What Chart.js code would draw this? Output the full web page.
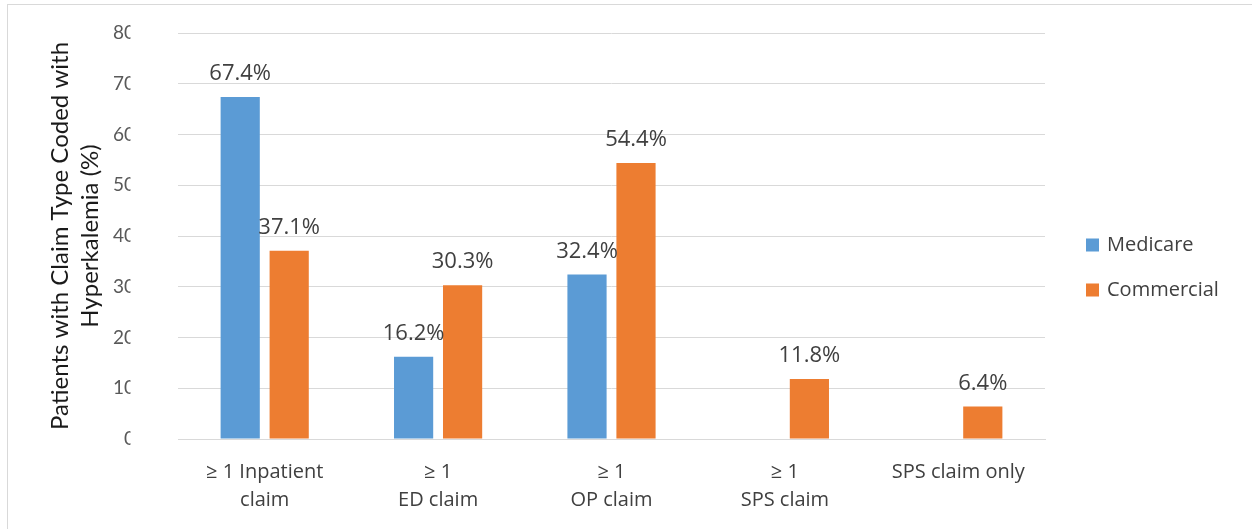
<!DOCTYPE html>
<html>
<head>
<meta charset="utf-8">
<script src="https://cdn.jsdelivr.net/npm/chart.js@4/dist/chart.umd.min.js"></script>
<style>
    html, body { margin: 0; padding: 0; background: #fff; overflow: hidden; }
    #wrap { position: relative; width: 1252px; height: 529px; }
    #frame { position: absolute; left: 7px; top: 4px; width: 1260px; height: 540px; border: 1px solid #d9d9d9; pointer-events: none; }
</style>
</head>
<body>
<div id="wrap">
    <canvas id="claimChart" width="1252" height="529"></canvas>
    <div id="frame"></div>
</div>
<script>
// Data
const categories = [
    ['≥ 1 Inpatient', 'claim'],
    ['≥ 1', 'ED claim'],
    ['≥ 1', 'OP claim'],
    ['≥ 1', 'SPS claim'],
    'SPS claim only'
];
const medicareValues = [67.4, 16.2, 32.4, null, null];
const commercialValues = [37.1, 30.3, 54.4, 11.8, 6.4];
const yTickValues = [0, 10, 20, 30, 40, 50, 60, 70, 80];
const yTitle = ['Patients with Claim Type Coded with', 'Hyperkalemia (%)'];

// Value labels above each bar
const barLabels = {
    id: 'barLabels',
    afterDatasetsDraw(chart) {
        const ctx = chart.ctx;
        ctx.save();
        ctx.font = '22px "Open Sans"';
        ctx.fillStyle = '#404040';
        ctx.textAlign = 'center';
        ctx.textBaseline = 'alphabetic';
        chart.data.datasets.forEach((ds, i) => {
            chart.getDatasetMeta(i).data.forEach((bar, j) => {
                const v = ds.data[j];
                if (v == null) return;
                ctx.fillText(v.toFixed(1) + '%', bar.x, bar.y - 17);
            });
        });
        ctx.restore();
    }
};

// Y tick labels, cut off on the right like in the original
const clippedTicks = {
    id: 'clippedTicks',
    afterDraw(chart) {
        const ctx = chart.ctx;
        const y = chart.scales.y;
        ctx.save();
        ctx.beginPath();
        ctx.rect(0, 0, 130.5, chart.height);
        ctx.clip();
        ctx.font = '19px Lato';
        ctx.fillStyle = '#595959';
        ctx.textAlign = 'right';
        ctx.textBaseline = 'middle';
        yTickValues.forEach(v => {
            ctx.fillText(String(v), 135, y.getPixelForValue(v));
        });
        ctx.restore();
    }
};

// Legend on the right, placed like the original
const sideLegend = {
    id: 'sideLegend',
    afterDraw(chart) {
        const ctx = chart.ctx;
        const left = chart.chartArea.right + 41;
        const top = 245;
        ctx.save();
        ctx.font = '20px "Open Sans"';
        ctx.textBaseline = 'middle';
        ctx.textAlign = 'left';
        chart.data.datasets.forEach((ds, i) => {
            const cy = top + i * 45;
            ctx.fillStyle = ds.backgroundColor;
            ctx.fillRect(left, cy - 6.5, 13, 13);
            ctx.fillStyle = '#404040';
            ctx.fillText(ds.label, left + 21, cy);
        });
        ctx.restore();
    }
};

new Chart(document.getElementById('claimChart'), {
    type: 'bar',
    data: {
        labels: categories,
        datasets: [{
            label: 'Medicare',
            data: medicareValues,
            backgroundColor: '#5b9bd5',
            categoryPercentage: 0.565,
            barPercentage: 0.8
        }, {
            label: 'Commercial',
            data: commercialValues,
            backgroundColor: '#ed7d31',
            categoryPercentage: 0.565,
            barPercentage: 0.8
        }]
    },
    options: {
        responsive: false,
        animation: false,
        layout: { padding: { top: 33, right: 207, bottom: 0, left: 0 } },
        plugins: {
            legend: { display: false },
            tooltip: { enabled: false }
        },
        scales: {
            x: {
                grid: { display: false },
                border: { color: '#d9d9d9' },
                ticks: {
                    color: '#404040',
                    padding: 11,
                    maxRotation: 0,
                    font: { family: '"Open Sans"', size: 20, lineHeight: 28 / 20 }
                },
                afterFit(scale) { scale.height = 90; }
            },
            y: {
                min: 0,
                max: 80,
                ticks: { stepSize: 10, display: false },
                grid: { color: '#d9d9d9', drawTicks: false },
                border: { display: false },
                title: {
                    display: true,
                    text: yTitle,
                    color: '#1a1a1a',
                    padding: { top: 45, bottom: 0 },
                    font: { family: 'Lato', size: 24, lineHeight: 30 / 24 }
                },
                afterFit(scale) { scale.width = 178; }
            }
        }
    },
    plugins: [barLabels, clippedTicks, sideLegend]
});
</script>
</body>
</html>
